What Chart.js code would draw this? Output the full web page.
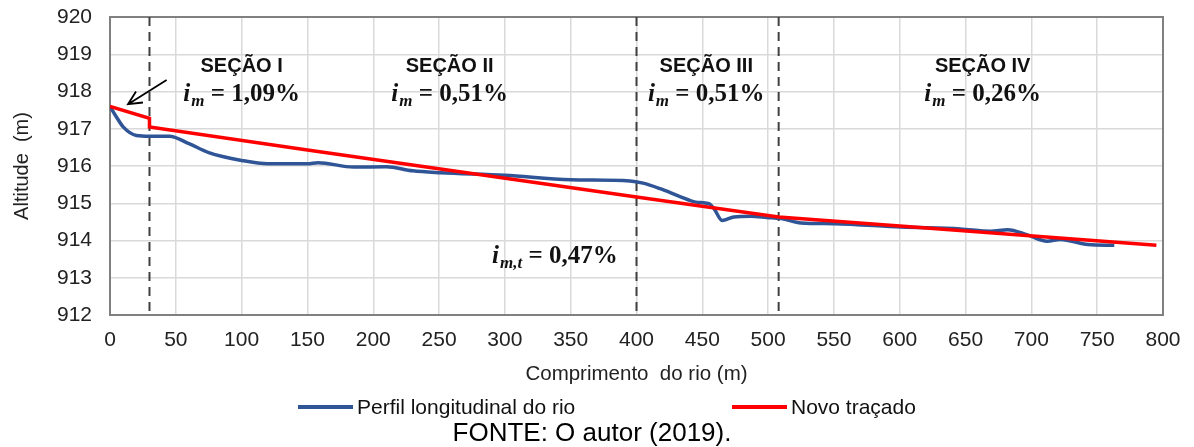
<!DOCTYPE html>
<html>
<head>
<meta charset="utf-8">
<script src="https://cdn.jsdelivr.net/npm/chart.js@4"></script>
<style>
  body { margin: 0; background: #fff; }
  #wrap { position: relative; width: 1194px; height: 447px; }
  #legend { font-family: "Liberation Sans", Arial, sans-serif; font-size: 21px; color: #111; }
  .item { position: absolute; top: 394px; height: 26px; display: flex; align-items: center; white-space: nowrap; }
  .swatch { display: inline-block; width: 55px; height: 4px; margin-right: 4px; }
  #source { position: absolute; left: 392px; width: 400px; top: 417px; text-align: center; font-family: "Liberation Sans", Arial, sans-serif; font-size: 26px; line-height: 30px; color: #000; white-space: nowrap; }
</style>
</head>
<body>
<div id="wrap">
  <canvas id="chart" width="1194" height="447"></canvas>
  <div id="legend">
    <div class="item" style="left:298px"><span class="swatch" style="background:#2f5597"></span>Perfil longitudinal do rio</div>
    <div class="item" style="left:732px"><span class="swatch" style="background:#ff0000"></span>Novo traçado</div>
  </div>
  <div id="source">FONTE: O autor (2019).</div>
</div>
<script>
// Perfil longitudinal
const perfilX = [0, 5, 10, 20, 30, 45, 60, 75, 100, 120, 150, 158, 185, 210, 230, 251, 300, 350, 395, 405, 418, 433, 445, 455, 459, 465, 474, 487, 499, 510, 525, 550, 601, 646, 669, 682, 697, 712, 722, 743, 763];
const perfilY = [917.6, 917.31, 917.05, 916.82, 916.8, 916.8, 916.6, 916.36, 916.15, 916.06, 916.06, 916.09, 915.97, 915.98, 915.87, 915.82, 915.75, 915.63, 915.6, 915.54, 915.39, 915.18, 915.03, 914.99, 914.85, 914.54, 914.63, 914.65, 914.62, 914.59, 914.47, 914.45, 914.36, 914.31, 914.25, 914.29, 914.15, 913.98, 914.03, 913.89, 913.87];

// Novo traçado
const tracadoX = [0, 30, 30, 150, 400, 508, 600, 795];
const tracadoY = [917.6, 917.28, 917.05, 916.43, 915.17, 914.63, 914.39, 913.87];

// section limits and labels
const sectionBounds = [30, 400, 508];
const sectionNames = ['SEÇÃO I', 'SEÇÃO II', 'SEÇÃO III', 'SEÇÃO IV'];
const sectionSlopes = ['1,09%', '0,51%', '0,51%', '0,26%'];
const sectionLabelX = [100, 258, 453, 663];
const totalSlope = '0,47%';

const xTicks = [0, 50, 100, 150, 200, 250, 300, 350, 400, 450, 500, 550, 600, 650, 700, 750, 800];
const yTicks = [912, 913, 914, 915, 916, 917, 918, 919, 920];

const toPoints = (xs, ys) => xs.map((x, i) => ({ x: x, y: ys[i] }));

const sansFont = '"Liberation Sans", Arial, sans-serif';
const mathFont = '"Liberation Serif", "DejaVu Serif", serif';

// draws "i_m = value" centred on cx
function drawSlope(ctx, cx, cy, sub, value) {
    ctx.save();
    ctx.fillStyle = '#111';
    ctx.textBaseline = 'alphabetic';
    ctx.textAlign = 'left';
    const fi = 'bold italic 25px ' + mathFont;
    const fs = 'bold italic 17px ' + mathFont;
    const fv = 'bold 25px ' + mathFont;
    const rest = ' = ' + value;
    ctx.font = fi; const wi = ctx.measureText('i').width + 1;
    ctx.font = fs; const ws = ctx.measureText(sub).width;
    ctx.font = fv; const wv = ctx.measureText(rest).width;
    let x = cx - (wi + ws + wv) / 2;
    ctx.font = fi; ctx.fillText('i', x, cy); x += wi;
    ctx.font = fs; ctx.fillText(sub, x, cy + 5); x += ws;
    ctx.font = fv; ctx.fillText(rest, x, cy);
    ctx.restore();
}

const annotations = {
    id: 'annotations',
    beforeDatasetsDraw(chart) {
        const { ctx, chartArea, scales } = chart;
        ctx.save();
        // plot frame
        ctx.strokeStyle = '#808080';
        ctx.lineWidth = 2;
        ctx.strokeRect(chartArea.left, chartArea.top, chartArea.right - chartArea.left, chartArea.bottom - chartArea.top);
        // section dividers
        ctx.strokeStyle = '#404040';
        ctx.setLineDash([9, 6]);
        sectionBounds.forEach(b => {
            const px = scales.x.getPixelForValue(b);
            ctx.beginPath();
            ctx.moveTo(px, chartArea.top);
            ctx.lineTo(px, chartArea.bottom);
            ctx.stroke();
        });
        ctx.restore();
    },
    afterDraw(chart) {
        const { ctx, scales } = chart;
        ctx.save();
        ctx.fillStyle = '#111';
        ctx.font = 'bold 20px ' + sansFont;
        ctx.textAlign = 'center';
        ctx.textBaseline = 'middle';
        const yName = scales.y.getPixelForValue(918.68);
        const ySlope = scales.y.getPixelForValue(917.96);
        sectionNames.forEach((n, i) => {
            const cx = scales.x.getPixelForValue(sectionLabelX[i]);
            ctx.fillText(n, cx, yName);
            drawSlope(ctx, cx, ySlope + 8, 'm', sectionSlopes[i]);
        });
        drawSlope(ctx, scales.x.getPixelForValue(338), scales.y.getPixelForValue(913.6) + 8, 'm,t', totalSlope);

        // arrow towards the start of the new profile
        const x0 = scales.x.getPixelForValue(43), y0 = scales.y.getPixelForValue(918.31);
        const x1 = scales.x.getPixelForValue(13.7), y1 = scales.y.getPixelForValue(917.66);
        ctx.strokeStyle = '#000';
        ctx.lineWidth = 1.8;
        ctx.beginPath();
        ctx.moveTo(x0, y0);
        ctx.lineTo(x1, y1);
        const ang = Math.atan2(y1 - y0, x1 - x0);
        ctx.moveTo(x1 - 15 * Math.cos(ang - 0.45), y1 - 15 * Math.sin(ang - 0.45));
        ctx.lineTo(x1, y1);
        ctx.lineTo(x1 - 15 * Math.cos(ang + 0.45), y1 - 15 * Math.sin(ang + 0.45));
        ctx.stroke();
        ctx.restore();
    }
};

new Chart(document.getElementById('chart'), {
    type: 'scatter',
    data: {
        datasets: [
            {
                label: 'Perfil longitudinal do rio',
                data: toPoints(perfilX, perfilY),
                showLine: true,
                borderColor: '#2f5597',
                borderWidth: 3.5,
                pointRadius: 0,
                cubicInterpolationMode: 'monotone',
                order: 2
            },
            {
                label: 'Novo traçado',
                data: toPoints(tracadoX, tracadoY),
                showLine: true,
                borderColor: '#ff0000',
                borderWidth: 3.5,
                pointRadius: 0,
                tension: 0,
                order: 1
            }
        ]
    },
    options: {
        responsive: false,
        animation: false,
        layout: { padding: { left: 0, right: 31, top: 17, bottom: 0 } },
        plugins: {
            legend: { display: false },
            tooltip: { enabled: false }
        },
        scales: {
            x: {
                type: 'linear',
                min: 0,
                max: 800,
                afterBuildTicks: axis => { axis.ticks = xTicks.map(v => ({ value: v })); },
                afterFit: axis => { axis.height = 132; },
                grid: { color: '#d9d9d9', lineWidth: 1.5, drawTicks: false },
                border: { color: '#808080', width: 2 },
                ticks: { color: '#222', font: { family: sansFont, size: 21 }, padding: 13, maxRotation: 0 },
                title: { display: true, text: 'Comprimento  do rio (m)', color: '#222', font: { family: sansFont, size: 20.5 }, padding: { top: 0, bottom: 60 } }
            },
            y: {
                min: 912,
                max: 920,
                afterBuildTicks: axis => { axis.ticks = yTicks.map(v => ({ value: v })); },
                afterFit: axis => { axis.width = 110; axis.paddingTop = 0; axis.paddingBottom = 0; },
                grid: { color: '#d9d9d9', lineWidth: 1.5, drawTicks: false },
                border: { color: '#808080', width: 2 },
                ticks: { color: '#222', font: { family: sansFont, size: 21 }, padding: 18 },
                title: { display: true, text: 'Altitude  (m)', color: '#222', font: { family: sansFont, size: 20 }, padding: { top: 10, bottom: 0 } }
            }
        }
    },
    plugins: [annotations]
});
</script>
</body>
</html>
